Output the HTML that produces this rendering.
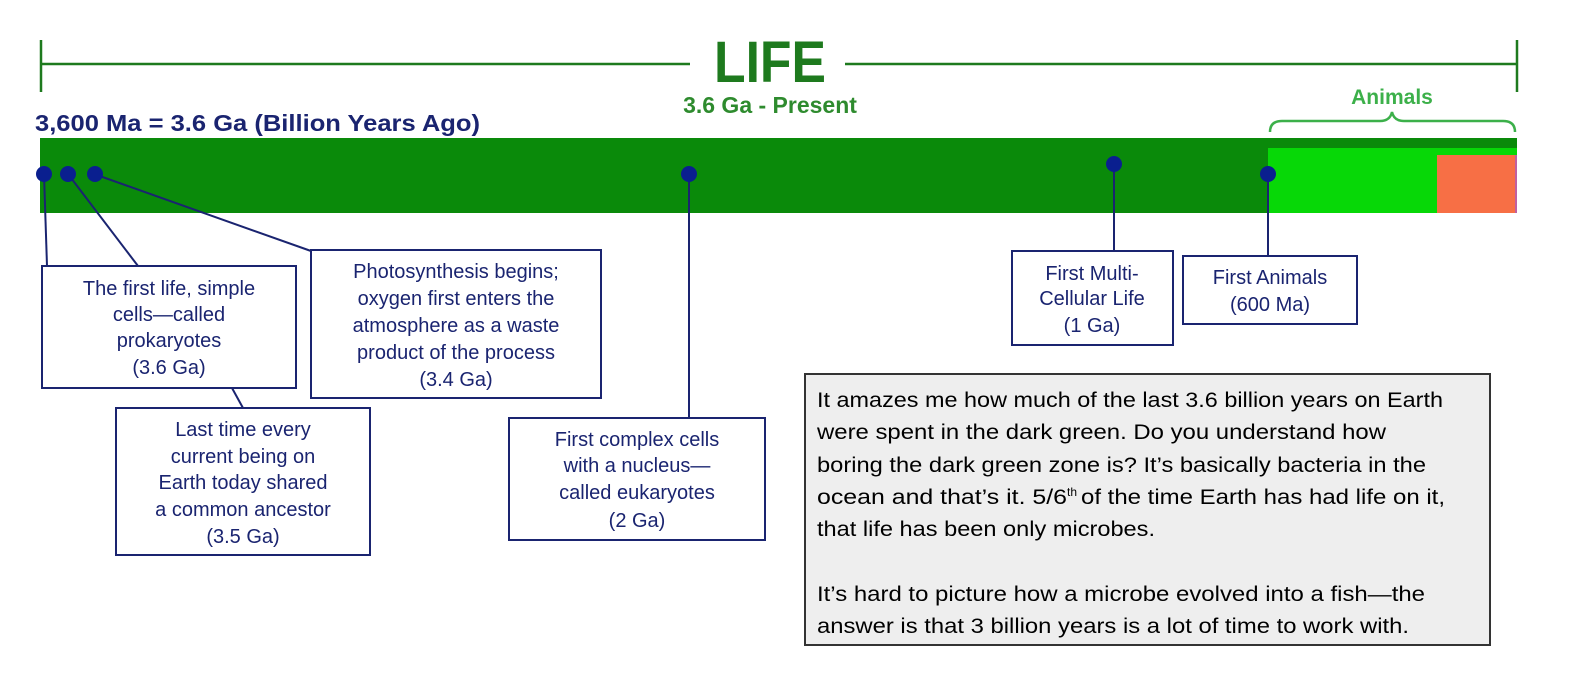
<!DOCTYPE html>
<html><head><meta charset="utf-8"><style>
html,body{margin:0;padding:0;background:#fff;}
svg{display:block;font-family:"Liberation Sans",sans-serif;}
.n{fill:#1a2470;font-size:20px;text-anchor:middle;}
.b{fill:#000;font-size:21px;}
</style></head><body>
<svg width="1587" height="700" viewBox="0 0 1587 700" xmlns="http://www.w3.org/2000/svg">
<g stroke="#1e7a1e" stroke-width="2.5" fill="none">
<line x1="41" y1="64" x2="690" y2="64"/>
<line x1="845" y1="64" x2="1517" y2="64"/>
<line x1="41" y1="40" x2="41" y2="92"/>
<line x1="1517" y1="40" x2="1517" y2="92"/>
</g>
<text x="770" y="82" font-size="58" font-weight="bold" fill="#1e7a1e" text-anchor="middle" textLength="112" lengthAdjust="spacingAndGlyphs">LIFE</text>
<text x="770" y="113" font-size="23" font-weight="bold" fill="#2e8b2e" text-anchor="middle">3.6 Ga - Present</text>
<text x="35" y="131" font-size="23" font-weight="bold" fill="#1a2470" textLength="445" lengthAdjust="spacingAndGlyphs">3,600 Ma = 3.6 Ga (Billion Years Ago)</text>
<text x="1392" y="104" font-size="21" font-weight="bold" fill="#3cb04a" text-anchor="middle">Animals</text>
<path d="M1270 132 Q1270 121 1282 121 L1380 121 Q1390 121 1392 112 Q1394 121 1404 121 L1503 121 Q1515 121 1515 132" stroke="#3cb04a" stroke-width="2.5" fill="none"/>
<rect x="40" y="138" width="1477" height="75" fill="#0a8a0a"/>
<rect x="1268" y="148" width="249" height="65" fill="#07d807"/>
<rect x="1437" y="155" width="78" height="58" fill="#f76f45"/>
<rect x="1515" y="155" width="2" height="58" fill="#c060a0"/>
<g stroke="#1a2470" stroke-width="2" fill="none">
<line x1="44" y1="174" x2="47" y2="266"/>
<line x1="68" y1="174" x2="138" y2="266"/>
<line x1="94" y1="174" x2="311" y2="251"/>
<line x1="232" y1="388" x2="243" y2="408"/>
<line x1="689" y1="174" x2="689" y2="418"/>
<line x1="1114" y1="164" x2="1114" y2="251"/>
<line x1="1268" y1="174" x2="1268" y2="256"/>
</g>
<g fill="#0a1f8f">
<circle cx="44" cy="174" r="8"/><circle cx="68" cy="174" r="8"/><circle cx="95" cy="174" r="8"/>
<circle cx="689" cy="174" r="8"/><circle cx="1114" cy="164" r="8"/><circle cx="1268" cy="174" r="8"/>
</g>
<g fill="#fff" stroke="#1a2470" stroke-width="2">
<rect x="42" y="266" width="254" height="122"/>
<rect x="311" y="250" width="290" height="148"/>
<rect x="116" y="408" width="254" height="147"/>
<rect x="509" y="418" width="256" height="122"/>
<rect x="1012" y="251" width="161" height="94"/>
<rect x="1183" y="256" width="174" height="68"/>
</g>
<text class="n"><tspan x="169" y="295">The first life, simple</tspan><tspan x="169" y="321">cells—called</tspan><tspan x="169" y="347">prokaryotes</tspan><tspan x="169" y="374">(3.6 Ga)</tspan></text>
<text class="n"><tspan x="456" y="278">Photosynthesis begins;</tspan><tspan x="456" y="305">oxygen first enters the</tspan><tspan x="456" y="332">atmosphere as a waste</tspan><tspan x="456" y="359">product of the process</tspan><tspan x="456" y="386">(3.4 Ga)</tspan></text>
<text class="n"><tspan x="243" y="436">Last time every</tspan><tspan x="243" y="463">current being on</tspan><tspan x="243" y="489">Earth today shared</tspan><tspan x="243" y="516">a common ancestor</tspan><tspan x="243" y="543">(3.5 Ga)</tspan></text>
<text class="n"><tspan x="637" y="446">First complex cells</tspan><tspan x="637" y="472">with a nucleus—</tspan><tspan x="637" y="499">called eukaryotes</tspan><tspan x="637" y="527">(2 Ga)</tspan></text>
<text class="n"><tspan x="1092" y="280">First Multi-</tspan><tspan x="1092" y="305">Cellular Life</tspan><tspan x="1092" y="332">(1 Ga)</tspan></text>
<text class="n"><tspan x="1270" y="284">First Animals</tspan><tspan x="1270" y="311">(600 Ma)</tspan></text>
<rect x="805" y="374" width="685" height="271" fill="#eeeeee" stroke="#333" stroke-width="2"/>
<text class="b" x="817" y="407" textLength="626" lengthAdjust="spacingAndGlyphs">It amazes me how much of the last 3.6 billion years on Earth</text>
<text class="b" x="817" y="439" textLength="569" lengthAdjust="spacingAndGlyphs">were spent in the dark green.  Do you understand how</text>
<text class="b" x="817" y="472" textLength="609" lengthAdjust="spacingAndGlyphs">boring the dark green zone is?  It’s basically bacteria in the</text>
<text class="b" x="817" y="504" textLength="250" lengthAdjust="spacingAndGlyphs">ocean and that’s it.  5/6</text>
<text x="1067" y="496" font-size="12" fill="#000">th</text>
<text class="b" x="1081" y="504" textLength="364" lengthAdjust="spacingAndGlyphs">of the time Earth has had life on it,</text>
<text class="b" x="817" y="536" textLength="338" lengthAdjust="spacingAndGlyphs">that life has been only microbes.</text>
<text class="b" x="817" y="601" textLength="608" lengthAdjust="spacingAndGlyphs">It’s hard to picture how a microbe evolved into a fish—the</text>
<text class="b" x="817" y="633" textLength="592" lengthAdjust="spacingAndGlyphs">answer is that 3 billion years is a lot of time to work with.</text>
</svg>
</body></html>
